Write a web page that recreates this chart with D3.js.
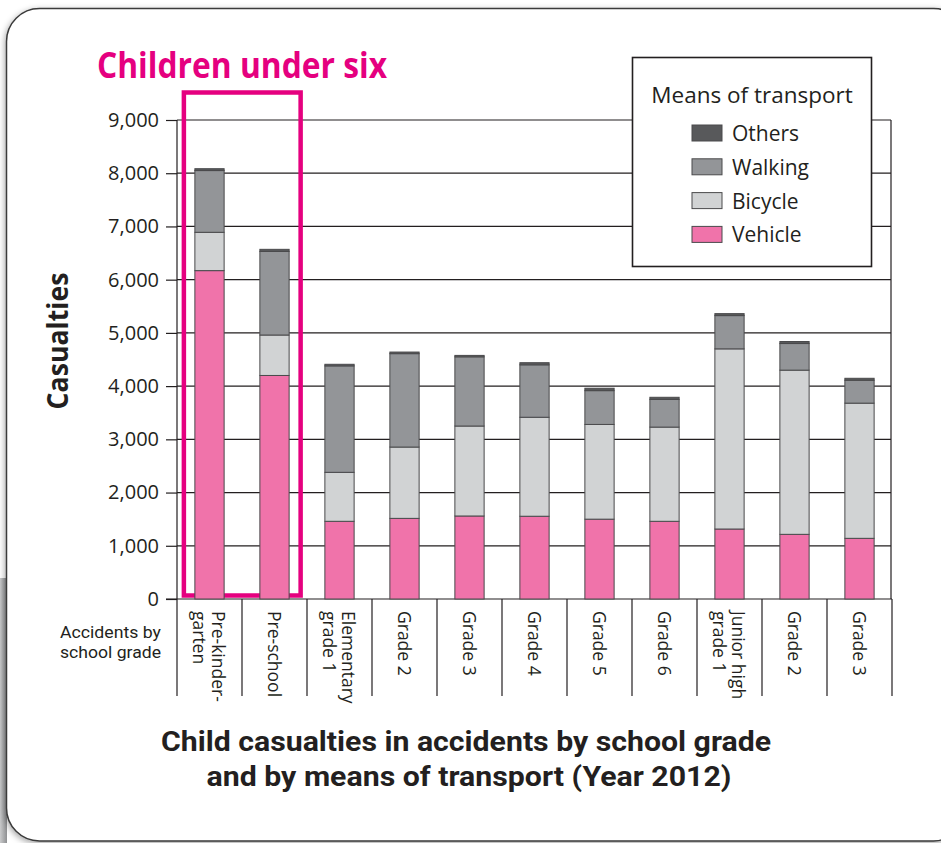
<!DOCTYPE html>
<html>
<head>
<meta charset="utf-8">
<script src="https://cdn.jsdelivr.net/npm/d3@7"></script>
<style>
  html, body { margin: 0; padding: 0; background: #ffffff; }
  svg { display: block; }
  text { font-family: "Open Sans", "Noto Sans", sans-serif; fill: #231f20; }
</style>
</head>
<body>
<svg id="chart" width="941" height="843"></svg>
<script>
// Grade labels (each entry holds the lines of one rotated label)
const categories = [
  ["Pre-kinder-", "garten"],
  ["Pre-school"],
  ["Elementary", "grade 1"],
  ["Grade 2"],
  ["Grade 3"],
  ["Grade 4"],
  ["Grade 5"],
  ["Grade 6"],
  ["Junior high", "grade 1"],
  ["Grade 2"],
  ["Grade 3"]
];

// Casualties by means of transport
const vehicle = [6170, 4200, 1460, 1515, 1560, 1555, 1500, 1460, 1315, 1215, 1140];
const bicycle = [720, 760, 920, 1340, 1690, 1860, 1780, 1770, 3385, 3085, 2540];
const walking = [1160, 1570, 2000, 1755, 1300, 985, 635, 520, 625, 500, 430];
const others  = [35, 40, 30, 30, 27, 40, 45, 40, 37, 38, 37];

const seriesKeys   = ["vehicle", "bicycle", "walking", "others"];
const seriesLabels = ["Vehicle", "Bicycle", "Walking", "Others"];
const seriesColors = ["#f073aa", "#d1d3d4", "#939598", "#58595b"];

const yTicks = [0, 1000, 2000, 3000, 4000, 5000, 6000, 7000, 8000, 9000];

const svg = d3.select("#chart");
const ink = "#231f20";
const magenta = "#e5007f";

// ---- card background ----
const defs = svg.append("defs");
const shadow = defs.append("filter").attr("id", "cardShadow")
  .attr("x", "-5%").attr("y", "-5%").attr("width", "110%").attr("height", "110%");
shadow.append("feDropShadow").attr("dx", -1).attr("dy", 2)
  .attr("stdDeviation", 3).attr("flood-color", "#000").attr("flood-opacity", 0.35);

const strip = defs.append("linearGradient").attr("id", "stripGrad")
  .attr("x1", 0).attr("x2", 1).attr("y1", 0).attr("y2", 0);
strip.append("stop").attr("offset", 0).attr("stop-color", "#c9cacb");
strip.append("stop").attr("offset", 1).attr("stop-color", "#8f9092");
svg.append("rect").attr("x", 0).attr("y", 578).attr("width", 7).attr("height", 265)
  .attr("fill", "url(#stripGrad)");

svg.append("rect")
  .attr("x", 6.5).attr("y", 8.5).attr("width", 960).attr("height", 832.5)
  .attr("rx", 33).attr("ry", 33)
  .attr("fill", "#ffffff").attr("stroke", "#3a3a3a").attr("stroke-width", 1.5)
  .attr("filter", "url(#cardShadow)");

// ---- scales ----
const idx = categories.map((d, i) => i);
const x = d3.scaleBand().domain(idx).range([177, 892])
  .paddingInner(0.55).paddingOuter(0.275);
const y = d3.scaleLinear().domain([0, 9000]).range([599, 120]);
const bw = x.bandwidth();
const x0 = x.range()[0], x1 = x.range()[1];
const labelBottom = 696;

// ---- gridlines ----
svg.append("g").selectAll("line")
  .data(yTicks.filter(d => d > 0))
  .join("line")
  .attr("x1", x0).attr("x2", 891)
  .attr("y1", d => y(d)).attr("y2", d => y(d))
  .attr("stroke", ink).attr("stroke-width", 1.2);

// right border of the plot
svg.append("line").attr("x1", 891).attr("x2", 891)
  .attr("y1", y(9000)).attr("y2", y(0))
  .attr("stroke", ink).attr("stroke-width", 1.2);

// ---- y axis ----
const yAxis = d3.axisLeft(y).tickValues(yTicks).tickSize(11).tickPadding(7)
  .tickFormat(d3.format(","));
const gy = svg.append("g").attr("transform", `translate(${x0},0)`).call(yAxis);
gy.select(".domain").remove();
gy.selectAll(".tick line").attr("stroke", ink).attr("stroke-width", 1.2);
gy.selectAll(".tick text")
  .attr("font-family", "'Open Sans', sans-serif")
  .attr("font-size", 20).attr("fill", ink);

// vertical axis line continuing through the label row
svg.append("line").attr("x1", x0).attr("x2", x0)
  .attr("y1", y(9000)).attr("y2", labelBottom)
  .attr("stroke", ink).attr("stroke-width", 1.2);

// baseline
svg.append("line").attr("x1", x0 - 11).attr("x2", x1)
  .attr("y1", y(0)).attr("y2", y(0))
  .attr("stroke", ink).attr("stroke-width", 1.2);

// category separators below the baseline
svg.append("g").selectAll("line")
  .data(d3.range(1, categories.length + 1))
  .join("line")
  .attr("x1", i => x0 + i * x.step()).attr("x2", i => x0 + i * x.step())
  .attr("y1", y(0)).attr("y2", labelBottom)
  .attr("stroke", ink).attr("stroke-width", 1.2);

// ---- highlight frame for the under-six groups ----
const hl = { left: x(0) - 11, right: x(1) + bw + 11.5, top: 92.5, bottom: 595.5 };
svg.append("rect")
  .attr("x", hl.left).attr("y", hl.top)
  .attr("width", hl.right - hl.left).attr("height", hl.bottom - hl.top)
  .attr("fill", "none").attr("stroke", magenta).attr("stroke-width", 4.5);

svg.append("text")
  .attr("x", 97).attr("y", 78)
  .attr("font-size", 36).attr("font-weight", 700)
  .attr("textLength", 290).attr("lengthAdjust", "spacingAndGlyphs")
  .style("fill", magenta)
  .text("Children under six");

// ---- stacked bars ----
const rows = idx.map(i => ({
  i,
  vehicle: vehicle[i], bicycle: bicycle[i], walking: walking[i], others: others[i]
}));
const stacked = d3.stack().keys(seriesKeys)(rows);

svg.append("g").selectAll("g")
  .data(stacked)
  .join("g")
  .attr("fill", (d, k) => seriesColors[k])
  .selectAll("rect")
  .data(d => d)
  .join("rect")
  .attr("x", d => x(d.data.i))
  .attr("y", d => y(d[1]))
  .attr("width", bw)
  .attr("height", d => y(d[0]) - y(d[1]))
  .attr("stroke", "#4a4a4c").attr("stroke-width", 1);

// ---- category labels (rotated) ----
const lab = svg.append("g").selectAll("g")
  .data(categories)
  .join("g")
  .attr("transform", (d, i) => `translate(${x(i) + bw / 2},611) rotate(90)`);
lab.append("text")
  .attr("font-size", 17.5)
  .attr("text-anchor", "start")
  .each(function (lines) {
    const t = d3.select(this);
    const lh = 18.5;
    const off = -(lines.length - 1) * lh / 2;
    lines.forEach((s, j) => {
      t.append("tspan").attr("x", 0).attr("y", off + j * lh)
        .attr("dominant-baseline", "central").text(s);
    });
  });

// row caption
const capFont = "Roboto, 'Open Sans', sans-serif";
svg.append("text").attr("x", 161).attr("y", 638).attr("text-anchor", "end")
  .attr("font-size", 16.5).style("font-family", capFont)
  .attr("textLength", 101).attr("lengthAdjust", "spacingAndGlyphs")
  .text("Accidents by");
svg.append("text").attr("x", 161).attr("y", 658).attr("text-anchor", "end")
  .attr("font-size", 16.5).style("font-family", capFont)
  .attr("textLength", 101).attr("lengthAdjust", "spacingAndGlyphs")
  .text("school grade");

// y title
svg.append("text")
  .attr("transform", "translate(57,341) rotate(-90)")
  .attr("text-anchor", "middle").attr("dominant-baseline", "central")
  .attr("font-size", 28).attr("font-weight", 700)
  .attr("textLength", 137).attr("lengthAdjust", "spacingAndGlyphs")
  .text("Casualties");

// ---- legend ----
const lg = svg.append("g");
lg.append("rect").attr("x", 632.5).attr("y", 57.5).attr("width", 239).attr("height", 209)
  .attr("fill", "#ffffff").attr("stroke", ink).attr("stroke-width", 1.6);
lg.append("text").attr("x", 752).attr("y", 103).attr("text-anchor", "middle")
  .attr("font-size", 22.5).text("Means of transport");
const legendOrder = [3, 2, 1, 0];
const li = lg.selectAll("g.item").data(legendOrder).join("g").attr("class", "item")
  .attr("transform", (k, j) => `translate(692,${133 + j * 33.8})`);
li.append("rect").attr("x", 0).attr("y", -8).attr("width", 30).attr("height", 16)
  .attr("fill", k => seriesColors[k]).attr("stroke", "#4a4a4c").attr("stroke-width", 1);
li.append("text").attr("x", 40).attr("y", 0).attr("dominant-baseline", "central")
  .attr("font-size", 21).text(k => seriesLabels[k]);

// ---- chart title ----
const titleFont = "Roboto, 'Open Sans', sans-serif";
svg.append("text").attr("x", 466).attr("y", 751).attr("text-anchor", "middle")
  .attr("font-size", 28).attr("font-weight", 700).style("font-family", titleFont)
  .attr("textLength", 610).attr("lengthAdjust", "spacingAndGlyphs")
  .text("Child casualties in accidents by school grade");
svg.append("text").attr("x", 469).attr("y", 786).attr("text-anchor", "middle")
  .attr("font-size", 28).attr("font-weight", 700).style("font-family", titleFont)
  .attr("textLength", 525).attr("lengthAdjust", "spacingAndGlyphs")
  .text("and by means of transport (Year 2012)");
</script>
</body>
</html>
